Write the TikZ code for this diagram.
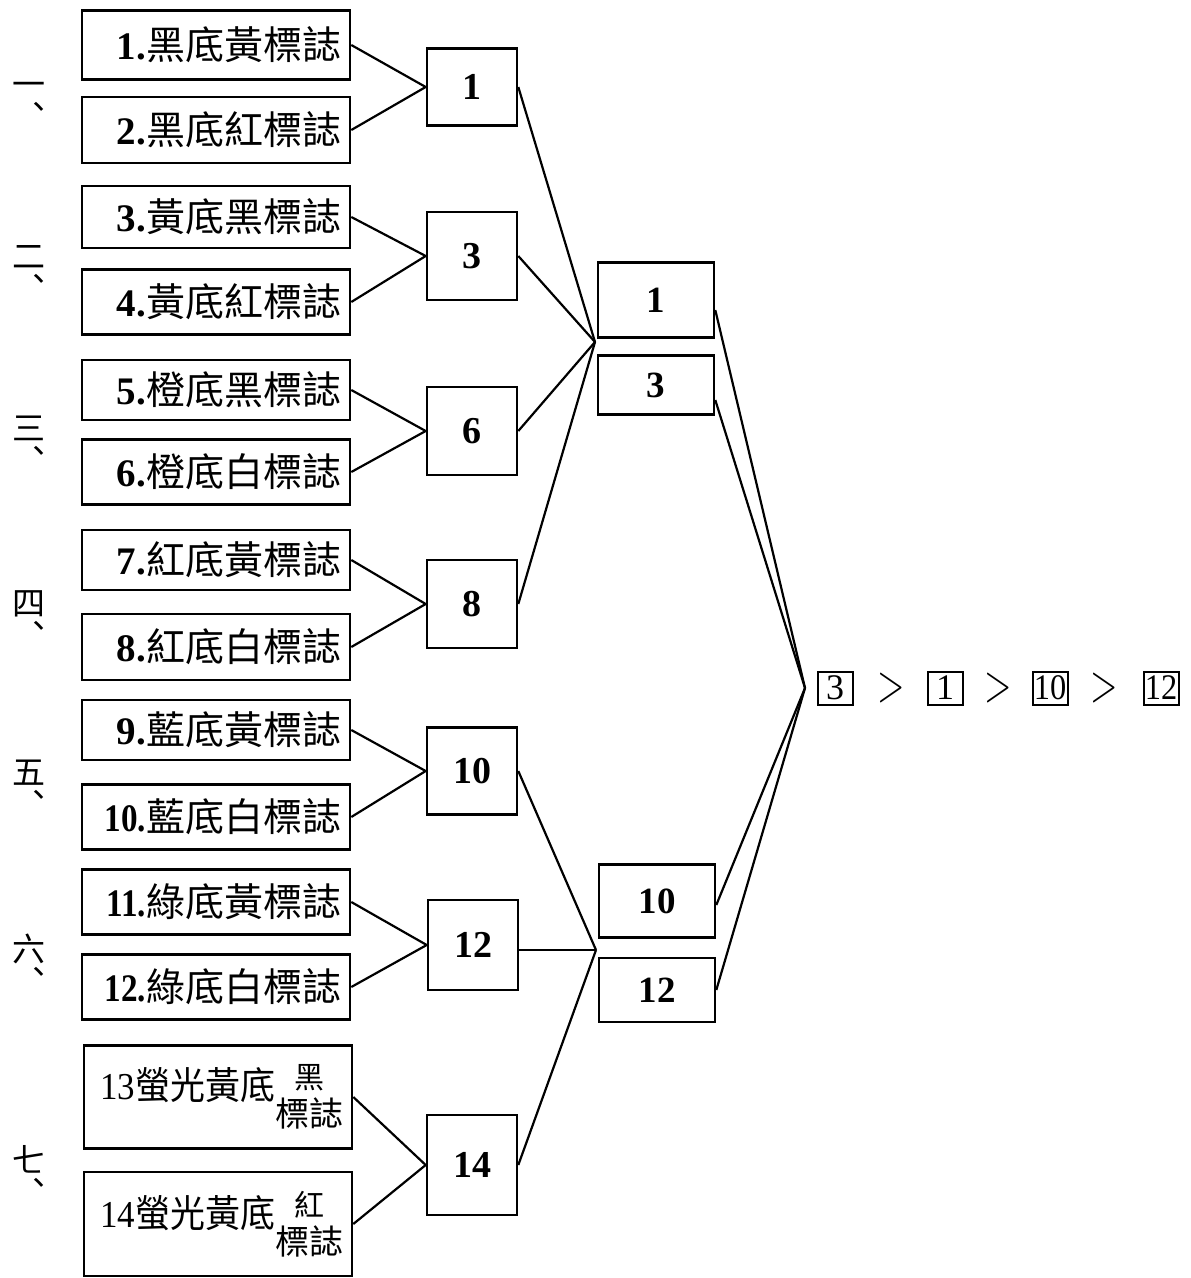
\documentclass[tikz,border=0pt]{standalone}
\usepackage{fontspec}
\newfontfamily\cjk{Noto Sans CJK TC}
\newfontfamily\dgf{Liberation Serif}
\newcommand\dg[1]{{\dgf\bfseries #1}}
\begin{document}
\begin{tikzpicture}[x=1pt,y=-1pt,
  lbox/.style={draw,line width=2.6pt,text width=250pt,inner xsep=9pt,inner ysep=0pt,font=\fontsize{39}{42}\selectfont\cjk,align=right},
  mbox/.style={draw,line width=2.6pt,minimum width=90pt,inner sep=0pt,font=\fontsize{38}{42}\selectfont\dgf\bfseries},
  rbox/.style={draw,line width=2.6pt,minimum width=116pt,inner sep=0pt,font=\fontsize{37}{42}\selectfont\dgf\bfseries},
  cn/.style={font=\fontsize{33}{33}\selectfont\cjk,inner sep=0pt,align=center},
  ln/.style={line width=2.2pt},
  res/.style={font=\fontsize{36}{40}\selectfont\rmfamily,inner sep=0pt},
  rb/.style={draw,line width=2pt,inner sep=0pt,minimum width=35pt,minimum height=33pt,font=\fontsize{36}{40}\selectfont\dgf}]
\useasboundingbox (0,0) rectangle (1191,1278);
% left boxes
\node[lbox,minimum height=69pt] (b1) at (216,45) {\dg{1.}黑底黃標誌};
\node[lbox,minimum height=66pt] (b2) at (216,130) {\dg{2.}黑底紅標誌};
\node[lbox,minimum height=62pt] (b3) at (216,217) {\dg{3.}黃底黑標誌};
\node[lbox,minimum height=65pt] (b4) at (216,302) {\dg{4.}黃底紅標誌};
\node[lbox,minimum height=60pt] (b5) at (216,390) {\dg{5.}橙底黑標誌};
\node[lbox,minimum height=65pt] (b6) at (216,472) {\dg{6.}橙底白標誌};
\node[lbox,minimum height=60pt] (b7) at (216,560) {\dg{7.}紅底黃標誌};
\node[lbox,minimum height=66pt] (b8) at (216,647) {\dg{8.}紅底白標誌};
\node[lbox,minimum height=60pt] (b9) at (216,730) {\dg{9.}藍底黃標誌};
\node[lbox,minimum height=65pt] (b10) at (216,817) {\dg{\scalebox{0.85}[1]{10.}}藍底白標誌};
\node[lbox,minimum height=65pt] (b11) at (216,902) {\dg{\scalebox{0.85}[1]{11.}}綠底黃標誌};
\node[lbox,minimum height=65pt] (b12) at (216,987) {\dg{\scalebox{0.85}[1]{12.}}綠底白標誌};
\node[lbox,minimum height=103pt,font=\fontsize{38}{40}\selectfont\cjk] (b13) at (218,1097)
  {\scalebox{0.92}[1]{{\dgf 13}螢光黃底}\raisebox{-27pt}{\shortstack[c]{{\fontsize{30}{30}\selectfont 黑}\\[4pt]{\fontsize{34}{34}\selectfont 標誌}}}};
\node[lbox,minimum height=104pt,font=\fontsize{38}{40}\selectfont\cjk] (b14) at (218,1224)
  {\scalebox{0.92}[1]{{\dgf 14}螢光黃底}\raisebox{-27pt}{\shortstack[c]{{\fontsize{30}{30}\selectfont 紅}\\[4pt]{\fontsize{34}{34}\selectfont 標誌}}}};
% section labels (vertical: numeral over comma)
\node[cn] (l1) at (29,106) {一\\︑};
\node[cn] (l2) at (29,273) {二\\︑};
\node[cn] (l3) at (29,445) {三\\︑};
\node[cn] (l4) at (29,620) {四\\︑};
\node[cn] (l5) at (29,789) {五\\︑};
\node[cn] (l6) at (29,964) {六\\︑};
\node[cn] (l7) at (29,1175) {七\\︑};
% middle boxes
\node[mbox,minimum height=77pt] (m1) at (472,87) {1};
\node[mbox,minimum height=88pt] (m3) at (472,256) {3};
\node[mbox,minimum height=88pt] (m6) at (472,431) {6};
\node[mbox,minimum height=88pt] (m8) at (472,604) {8};
\node[mbox,minimum height=87pt] (m10) at (472,771) {10};
\node[mbox,minimum height=90pt] (m12) at (473,945) {12};
\node[mbox,minimum height=100pt] (m14) at (472,1165) {14};
% right column
\node[rbox,minimum height=75pt] (r1) at (656,300) {1};
\node[rbox,minimum height=59pt] (r3) at (656,385) {3};
\node[rbox,minimum height=73pt] (r10) at (657,901) {10};
\node[rbox,minimum height=64pt] (r12) at (657,990) {12};
% junctions
\coordinate (cA) at (595,342);
\coordinate (cB) at (596,950);
\coordinate (cR) at (805,688);
% connectors
\foreach \a/\b in {b1/m1,b2/m1,b3/m3,b4/m3,b5/m6,b6/m6,b7/m8,b8/m8,b9/m10,b10/m10,b11/m12,b12/m12,b13/m14,b14/m14}
  \draw[ln] (\a.east) -- (\b.west);
\foreach \a in {m1,m3,m6,m8} \draw[ln] (\a.east) -- (cA);
\draw[ln] (m10.east) -- (cB);
\draw[ln] ([yshift=-5pt]m12.east) -- (cB);
\draw[ln] (m14.east) -- (cB);
\draw[ln] ([yshift=-10pt]r1.east) -- (cR);
\draw[ln] ([yshift=-15pt]r3.east) -- (cR);
\draw[ln] ([yshift=-4pt]r10.east) -- (cR);
\draw[ln] (r12.east) -- (cR);
% result
\node[rb] (x3) at (835,688) {3};
\node[res] (g1) at (891,688) {\scalebox{1}[1.5]{>}};
\node[rb] (x1) at (945,688) {1};
\node[res] (g2) at (998,688) {\scalebox{1}[1.5]{>}};
\node[rb] (x10) at (1050,688) {\scalebox{0.9}[1]{10}};
\node[res] (g3) at (1104,688) {\scalebox{1}[1.5]{>}};
\node[rb] (x12) at (1161,688) {\scalebox{0.9}[1]{12}};
\end{tikzpicture}
\end{document}
